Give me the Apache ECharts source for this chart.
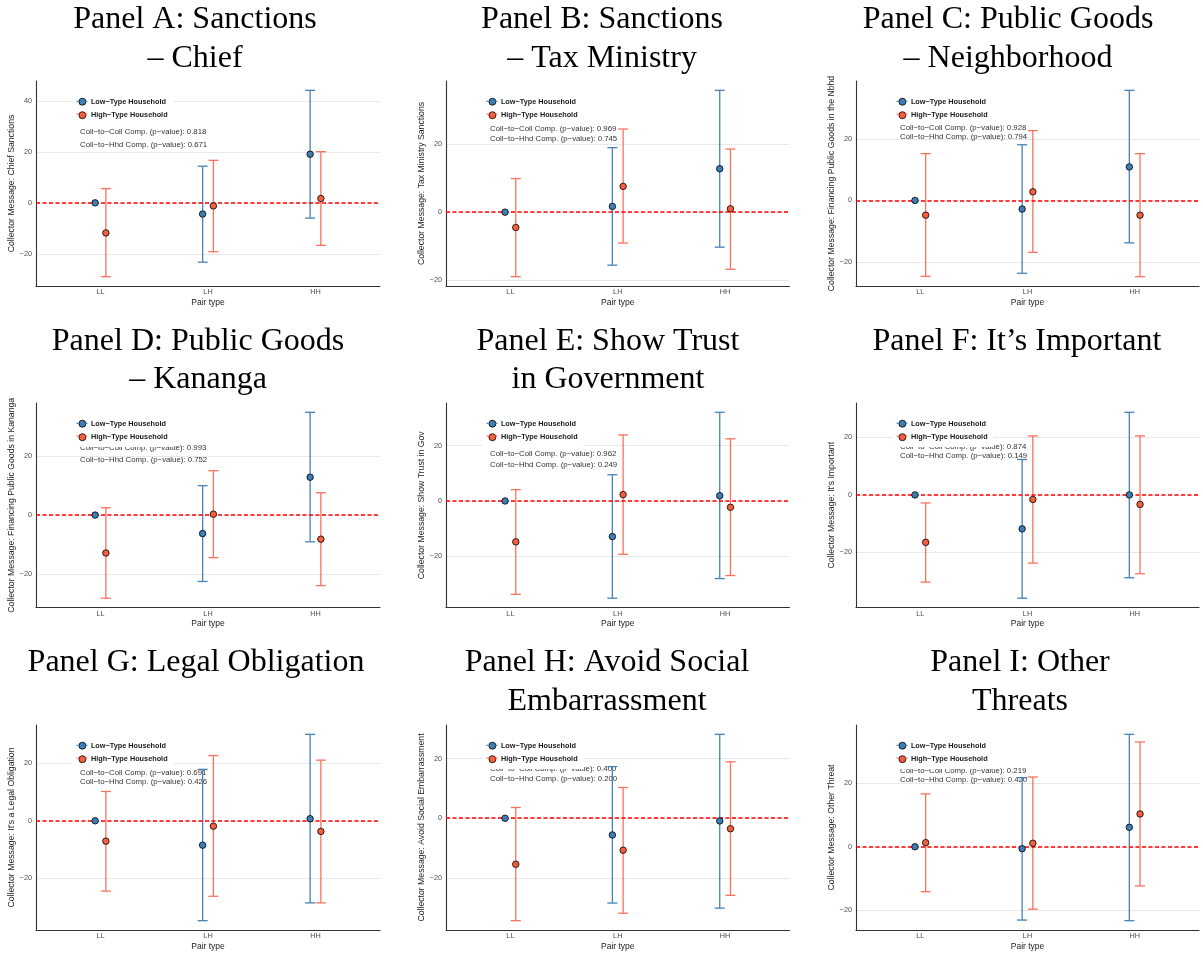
<!DOCTYPE html>
<html><head><meta charset="utf-8">
<script src="https://cdn.jsdelivr.net/npm/echarts@6/dist/echarts.min.js"></script>
<style>html,body{margin:0;padding:0;background:#fff}#c{width:1203px;height:957px}</style>
</head><body><div id="c"></div>
<script>
// ---------- data ----------
const categories = ['LL', 'LH', 'HH'];
const seriesNames = ['Low\u2212Type Household', 'High\u2212Type Household'];
const panelTitles = [
  ['Panel A: Sanctions', '\u2013 Chief'],
  ['Panel B: Sanctions', '\u2013 Tax Ministry'],
  ['Panel C: Public Goods', '\u2013 Neighborhood'],
  ['Panel D: Public Goods', '\u2013 Kananga'],
  ['Panel E: Show Trust', 'in Government'],
  ['Panel F: It\u2019s Important'],
  ['Panel G: Legal Obligation'],
  ['Panel H: Avoid Social', 'Embarrassment'],
  ['Panel I: Other', 'Threats']
];
const yAxisTitles = [
  'Collector Message: Chief Sanctions',
  'Collector Message: Tax Ministry Sanctions',
  'Collector Message: Financing Public Goods in the Nbhd',
  'Collector Message: Financing Public Goods in Kananga',
  'Collector Message: Show Trust in Gov',
  "Collector Message: It's Important",
  "Collector Message: It's a Legal Obligation",
  'Collector Message: Avoid Social Embarrassment',
  'Collector Message: Other Threat'
];
// Low-type household: estimate, lower CI, upper CI  (LL, LH, HH)
const lowEst = [[0,-4.4,19.1],[0,1.7,12.8],[0,-2.8,10.9],[0,-6.3,12.9],[0,-12.9,1.9],[0,-11.8,0.0],[0,-8.5,0.7],[0,-5.6,-0.9],[0,-0.6,6.1]];
const lowLo  = [[0,-23.3,-6.0],[0,-15.6,-10.3],[0,-23.7,-13.8],[0,-22.6,-9.1],[0,-35.2,-28.1],[0,-35.9,-28.8],[0,-34.8,-28.6],[0,-28.4,-30.1],[0,-23.0,-23.2]];
const lowHi  = [[0,14.4,44.2],[0,19.0,35.9],[0,18.1,35.8],[0,10.0,35.0],[0,9.5,32.1],[0,12.3,28.7],[0,17.9,30.1],[0,17.3,28.1],[0,21.7,35.3]];
// High-type household
const highEst = [[-11.8,-1.2,1.7],[-4.5,7.6,1.0],[-4.8,2.8,-4.8],[-12.9,0.3,-8.2],[-14.8,2.3,-2.3],[-16.5,-1.6,-3.3],[-7.1,-1.9,-3.7],[-15.4,-10.7,-3.5],[1.3,1.1,10.3]];
const highLo  = [[-29.0,-19.2,-16.7],[-19.0,-9.1,-16.8],[-24.7,-16.9,-24.8],[-28.3,-14.5,-24.0],[-33.8,-19.3,-27.0],[-30.3,-23.7,-27.4],[-24.5,-26.3,-28.6],[-34.3,-31.8,-25.8],[-14.1,-19.6,-12.3]];
const highHi  = [[5.6,16.7,20.1],[9.9,24.5,18.6],[15.2,22.7,15.2],[2.5,15.1,7.6],[4.1,23.9,22.5],[-2.8,20.5,20.5],[10.2,22.7,21.1],[3.6,10.3,18.9],[16.6,21.9,32.9]];
const pCollColl = ['0.818','0.969','0.928','0.993','0.962','0.874','0.691','0.400','0.219'];
const pCollHhd  = ['0.671','0.745','0.794','0.752','0.249','0.149','0.426','0.200','0.420'];
const yTicks = [[-20,0,20,40],[-20,0,20],[-20,0,20],[-20,0,20],[-20,0,20],[-20,0,20],[-20,0,20],[-20,0,20],[-20,0,20]];
const xTicks = [1, 2, 3];
const refValue = 0;

// ---------- layout ----------
const colLeft = [36, 446, 856], colWidth = [344, 343.5, 343];
const rowTop = [81, 403, 725], rowHeight = [205, 204.5, 205];
const titleX = [195, 602, 1008, 198, 608, 1017, 196, 607, 1020];
const titleY = [[20, 58.5], [341.5, 380], [663, 701.5]];
const annoY = [[51,64.3],[48.3,58.3],[47.3,56.3],[45.3,57.3],[51.3,62.3],[44.3,52.7],[48.3,56.7],[44.3,53.7],[45.7,55.3]];
const dodge = 0.05;
const BLUE_LINE = '#4682B4', RED_LINE = '#F8735E';
const BLUE_PT = '#3F7DB5', RED_PT = '#F4603F';
const ZERO_RED = '#FF0000';
const SANS = '"Liberation Sans", Arial, sans-serif';
const SERIF = '"Liberation Serif", "Times New Roman", serif';

const minus = v => (v < 0 ? '\u2212' + Math.abs(v) : String(v));

function renderErr(params, api) {
  const x = api.value(0), lo = api.value(1), hi = api.value(2);
  if (lo === hi) return null;
  const top = api.coord([x, hi]), bot = api.coord([x, lo]);
  const hw = 5;
  const style = { stroke: api.visual('color'), lineWidth: 1.3 };
  return { type: 'group', children: [
    { type: 'line', shape: { x1: top[0], y1: top[1], x2: bot[0], y2: bot[1] }, style },
    { type: 'line', shape: { x1: top[0] - hw, y1: top[1], x2: top[0] + hw, y2: top[1] }, style },
    { type: 'line', shape: { x1: bot[0] - hw, y1: bot[1], x2: bot[0] + hw, y2: bot[1] }, style }
  ]};
}

const grid = [], xAxis = [], yAxis = [], series = [], legend = [], graphic = [];
for (let p = 0; p < 9; p++) {
  const r = Math.floor(p / 3), c = p % 3;
  const left = colLeft[c], top = rowTop[r], w = colWidth[c], h = rowHeight[r];
  grid.push({ left, top, width: w, height: h, containLabel: false });
  const all = [].concat(lowEst[p], lowLo[p], lowHi[p], highEst[p], highLo[p], highHi[p]);
  const lo = Math.min(...all), hi = Math.max(...all), span = hi - lo;
  xAxis.push({
    type: 'value', gridIndex: p, min: 0.4, max: 3.6,
    name: 'Pair type', nameLocation: 'middle', nameGap: 12,
    nameTextStyle: { fontFamily: SANS, fontSize: 8.5, color: '#222', verticalAlign: 'top' },
    axisLine: { show: true, onZero: false, lineStyle: { color: '#333', width: 1.1 } },
    axisTick: { show: false, customValues: xTicks },
    axisLabel: { customValues: xTicks, margin: 2.5, fontFamily: SANS, fontSize: 7.3, color: '#4D4D4D',
      formatter: v => categories[Math.round(v) - 1] || '' },
    splitLine: { show: false }
  });
  yAxis.push({
    type: 'value', gridIndex: p, min: lo - 0.05 * span, max: hi + 0.05 * span,
    name: yAxisTitles[p], nameLocation: 'middle', nameGap: 16,
    nameTextStyle: { fontFamily: SANS, fontSize: 8.7, color: '#222' },
    axisLine: { show: true, onZero: false, lineStyle: { color: '#333', width: 1.1 } },
    axisTick: { show: false, customValues: yTicks[p] },
    axisLabel: { customValues: yTicks[p], margin: 4, fontFamily: SANS, fontSize: 7.3, color: '#4D4D4D', formatter: minus },
    splitLine: { show: true, lineStyle: { color: '#E8E8E8', width: 1.1 } }
  });
  // reference line at zero (dedicated series)
  series.push({
    type: 'line', name: 'zero-' + p, xAxisIndex: p, yAxisIndex: p, z: 2, silent: true,
    data: [], itemStyle: { color: ZERO_RED }, lineStyle: { color: ZERO_RED },
    markLine: { silent: true, symbol: 'none', animation: false, label: { show: false },
      lineStyle: { color: ZERO_RED, type: [4, 2.5], width: 1.7, opacity: 1 },
      emphasis: { disabled: true },
      data: [{ yAxis: refValue }] }
  });
  const groups = [
    { name: seriesNames[0], est: lowEst[p], l: lowLo[p], u: lowHi[p], off: -dodge, line: BLUE_LINE, pt: BLUE_PT },
    { name: seriesNames[1], est: highEst[p], l: highLo[p], u: highHi[p], off: dodge, line: RED_LINE, pt: RED_PT }
  ];
  groups.forEach(g => {
    series.push({
      type: 'custom', name: g.name, xAxisIndex: p, yAxisIndex: p, z: 3,
      renderItem: renderErr, itemStyle: { color: g.line }, silent: true,
      data: categories.map((_, i) => [i + 1 + g.off, g.l[i], g.u[i]])
    });
  });
  groups.forEach(g => {
    series.push({
      type: 'scatter', name: g.name, xAxisIndex: p, yAxisIndex: p, z: 5,
      symbol: 'circle', symbolSize: 6.5, silent: true,
      itemStyle: { color: g.pt, borderColor: '#000', borderWidth: 0.8, opacity: 1 },
      data: categories.map((_, i) => [i + 1 + g.off, g.est[i]])
    });
  });
  // legend
  const lgLeft = left + 36.5, lgTop = top + 10.8;
  legend.push({
    left: lgLeft, top: lgTop, orient: 'vertical', padding: 6,
    itemWidth: 7, itemHeight: 7, itemGap: 5.7, itemTextGap: 7.5, backgroundColor: '#fff',
    selectedMode: false, z: 4,
    textStyle: { fontFamily: SANS, fontSize: 7.3, fontWeight: 'bold', color: '#1a1a1a', lineHeight: 7 },
    data: [
      { name: seriesNames[0], icon: 'circle', itemStyle: { color: BLUE_PT, borderColor: '#000', borderWidth: 0.8 } },
      { name: seriesNames[1], icon: 'circle', itemStyle: { color: RED_PT, borderColor: '#000', borderWidth: 0.8 } }
    ]
  });
  // legend key stubs
  const kx = left + 46;
  [[lgTop + 9.5, BLUE_LINE], [lgTop + 9.5 + 12.7, RED_LINE]].forEach(([ky, col]) => {
    graphic.push({ type: 'line', z: 10, silent: true, shape: { x1: kx - 5.5, y1: ky, x2: kx - 3.4, y2: ky }, style: { stroke: col, lineWidth: 1.2 } });
    graphic.push({ type: 'line', z: 10, silent: true, shape: { x1: kx + 3.4, y1: ky, x2: kx + 5.5, y2: ky }, style: { stroke: col, lineWidth: 1.2 } });
  });
  // annotations
  const annoTexts = ['Coll\u2212to\u2212Coll Comp. (p\u2212value): ' + pCollColl[p], 'Coll\u2212to\u2212Hhd Comp. (p\u2212value): ' + pCollHhd[p]];
  annoTexts.forEach((t, k) => {
    graphic.push({ type: 'text', z: 3, silent: true, x: left + 44, y: top + annoY[p][k],
      style: { text: t, font: '7.8px ' + SANS, fill: '#333', align: 'left', verticalAlign: 'middle', textAlign: 'left', textVerticalAlign: 'middle' } });
  });
  // titles
  panelTitles[p].forEach((t, k) => {
    graphic.push({ type: 'text', z: 3, silent: true, x: titleX[p], y: titleY[r][k],
      style: { text: t, font: '32px ' + SERIF, fill: '#000', align: 'center', verticalAlign: 'middle', textAlign: 'center', textVerticalAlign: 'middle' } });
  });
}

const chart = echarts.init(document.getElementById('c'), null, { renderer: 'canvas' });
chart.setOption({
  animation: false,
  backgroundColor: '#fff',
  grid, xAxis, yAxis, series, legend,
  graphic: { elements: graphic }
});
</script></body></html>
